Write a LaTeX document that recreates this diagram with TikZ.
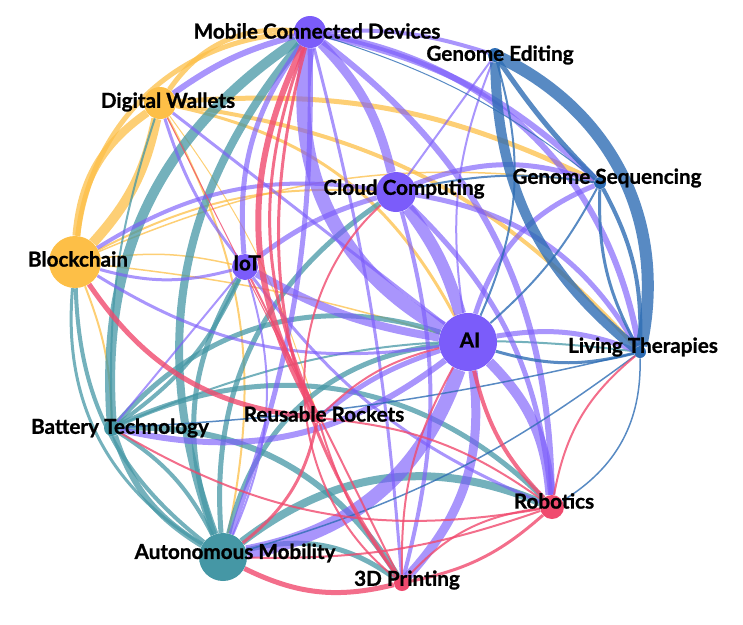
\documentclass[tikz,border=0pt]{standalone}
\usepackage{fontspec}
\setmainfont{Lato}[BoldFeatures={FakeBold=1}]
\usetikzlibrary{backgrounds}
\definecolor{Violet}{HTML}{7B5CFA}
\definecolor{Amber}{HTML}{FDBF47}
\definecolor{Teal}{HTML}{4597A5}
\definecolor{Azure}{HTML}{2E6DB4}
\definecolor{Rose}{HTML}{F04A6E}

\tikzset{
  hub/.style={circle, inner sep=0pt, minimum size=#1*0.75pt},
  tag/.style={font=\fontsize{15.5}{18}\selectfont\bfseries, inner sep=0pt},
  link/.style={line width=#1*0.75pt},
}

\begin{document}
\begin{tikzpicture}[x=0.75pt, y=-0.75pt]
  \useasboundingbox (0,0) rectangle (743,625);

  % hubs
  \node[hub=32, fill=Violet] (mcd)   at (310,32)  {};
  \node[hub=14, fill=Azure]  (gedit) at (495,55)  {};
  \node[hub=32, fill=Amber]  (dwal)  at (160,103) {};
  \node[hub=40, fill=Violet] (cloud) at (396,192) {};
  \node[hub=12, fill=Azure]  (gseq)  at (600,183) {};
  \node[hub=52, fill=Amber]  (chain) at (75,262)  {};
  \node[hub=26, fill=Violet] (iot)   at (245,267) {};
  \node[hub=58, fill=Violet] (ai)    at (468,342) {};
  \node[hub=12, fill=Azure]  (livth) at (640,352) {};
  \node[hub=16, fill=Teal]   (batt)  at (112,428) {};
  \node[hub=10, fill=Rose]   (rock)  at (318,418) {};
  \node[hub=24, fill=Rose]   (robo)  at (552,507) {};
  \node[hub=48, fill=Teal]   (auto)  at (223,557) {};
  \node[hub=16, fill=Rose]   (print) at (402,583) {};

  \begin{scope}[on background layer]
    % yellow links
    \foreach \a/\b/\w/\k in {chain/dwal/8/25, chain/dwal/10/-15, dwal/mcd/5/30, chain/mcd/5/40,
        dwal/gseq/5/15, dwal/ai/3/25, chain/cloud/2/15, chain/gseq/1.5/15, chain/ai/1.5/5,
        chain/iot/1.5/10, chain/batt/2/10, dwal/auto/2/20, dwal/rock/1/10, dwal/livth/4/20}
      \draw[Amber, opacity=.75, link=\w] (\a) to[bend left=\k] (\b);
    % teal links
    \foreach \a/\b/\w/\k in {mcd/batt/10/-30, mcd/auto/8/-30, chain/auto/4/-25, chain/auto/3/-32,
        batt/auto/6/-20, batt/auto/4/15, auto/robo/8/30, batt/ai/5/33, batt/robo/5/35,
        cloud/auto/5/-30, iot/batt/4/15, iot/auto/5/-25, batt/print/6/30, auto/print/5/25,
        auto/ai/5/35, batt/livth/2/15, dwal/batt/2/-10}
      \draw[Teal, opacity=.75, link=\w] (\a) to[bend left=\k] (\b);
    % purple links
    \foreach \a/\b/\w/\k in {mcd/ai/14/-35, mcd/cloud/9/15, cloud/ai/12/10, ai/auto/14/30,
        ai/print/9/25, ai/robo/10/20, mcd/robo/6/26, cloud/robo/5/20, mcd/livth/6/35,
        mcd/gseq/6/15, cloud/gseq/5/20, ai/gseq/5/25, ai/livth/5/15, cloud/livth/5/25,
        mcd/iot/5/-20, dwal/iot/3/-10, chain/iot/3/-15, chain/ai/3/-20, chain/cloud/4/20,
        dwal/mcd/6/10, iot/cloud/5/10, iot/ai/8/-10, batt/ai/6/-25, mcd/auto/5/10,
        cloud/print/4/15, mcd/gedit/4/10, gedit/cloud/2/0, rock/ai/5/10, batt/iot/2/0,
        dwal/ai/3/0, iot/robo/3/-15, mcd/print/3/5, iot/auto/2/20, gedit/ai/2/-15}
      \draw[Violet, opacity=.65, link=\w] (\a) to[bend left=\k] (\b);
    % blue links
    \foreach \a/\b/\w/\k in {gedit/livth/12/38, gedit/livth/10/-25, gedit/gseq/5/-5,
        gseq/livth/4/15, gseq/livth/3/-15, ai/gedit/2/-20, ai/gseq/2/-10, cloud/gseq/2/10,
        mcd/gseq/1/10, livth/ai/3/15, livth/robo/1.5/30, livth/batt/1.5/5, livth/auto/1.5/10}
      \draw[Azure, opacity=.8, link=\w] (\a) to[bend left=\k] (\b);
    % pink links
    \foreach \a/\b/\w/\k in {mcd/rock/6/-28, mcd/rock/3/-22, mcd/print/3/-25, chain/rock/5/-25,
        auto/print/5/-20, robo/print/3/15, robo/print/2/-20, robo/auto/2/10, robo/livth/2/20,
        ai/robo/4/-15, robo/rock/2/-15, batt/robo/2/-20, rock/ai/2/15, rock/print/2/-10,
        print/ai/2/15, cloud/print/2/-50, dwal/rock/1/0, auto/rock/3/-20, iot/print/2/0}
      \draw[Rose, opacity=.8, link=\w] (\a) to[bend left=\k] (\b);
  \end{scope}

  % labels
  \node[tag] (mcd-t)   at (317,31)  {Mobile Connected Devices};
  \node[tag] (gedit-t) at (500,55)  {Genome Editing};
  \node[tag] (dwal-t)  at (168,102) {Digital Wallets};
  \node[tag] (cloud-t) at (404,189) {Cloud Computing};
  \node[tag] (gseq-t)  at (607,178) {Genome Sequencing};
  \node[tag] (chain-t) at (78,259)  {Blockchain};
  \node[tag] (iot-t)   at (247,263) {IoT};
  \node[tag] (ai-t)    at (470,340) {AI};
  \node[tag] (livth-t) at (643,347) {Living Therapies};
  \node[tag] (batt-t)  at (120,428) {Battery Technology};
  \node[tag] (rock-t)  at (324,414) {Reusable Rockets};
  \node[tag] (robo-t)  at (554,501) {Robotics};
  \node[tag] (auto-t)  at (235,553) {Autonomous Mobility};
  \node[tag] (print-t) at (407,580) {3D Printing};
\end{tikzpicture}
\end{document}
